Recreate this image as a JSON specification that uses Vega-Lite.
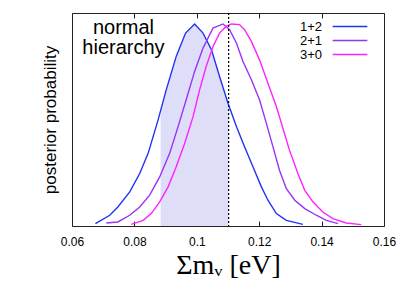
{
  "$schema": "https://vega.github.io/schema/vega-lite/v6.json",
  "width": 312,
  "height": 213,
  "autosize": {"type": "none"},
  "padding": {"left": 72, "top": 13, "right": 21, "bottom": 57},
  "background": "white",
  "config": {
    "view": {"stroke": "#222", "strokeWidth": 1},
    "font": "Liberation Sans"
  },
  "datasets": {
    "curves": [
      {"series": "1+2", "m": 0.0675, "p": 0.012},
      {"series": "1+2", "m": 0.0721, "p": 0.053},
      {"series": "1+2", "m": 0.0747, "p": 0.094},
      {"series": "1+2", "m": 0.0785, "p": 0.168},
      {"series": "1+2", "m": 0.0817, "p": 0.259},
      {"series": "1+2", "m": 0.0844, "p": 0.358},
      {"series": "1+2", "m": 0.0876, "p": 0.523},
      {"series": "1+2", "m": 0.0902, "p": 0.671},
      {"series": "1+2", "m": 0.0934, "p": 0.836},
      {"series": "1+2", "m": 0.0964, "p": 0.951},
      {"series": "1+2", "m": 0.0993, "p": 0.996},
      {"series": "1+2", "m": 0.1020, "p": 0.951},
      {"series": "1+2", "m": 0.1047, "p": 0.869},
      {"series": "1+2", "m": 0.1073, "p": 0.737},
      {"series": "1+2", "m": 0.1100, "p": 0.605},
      {"series": "1+2", "m": 0.1127, "p": 0.490},
      {"series": "1+2", "m": 0.1153, "p": 0.391},
      {"series": "1+2", "m": 0.1180, "p": 0.292},
      {"series": "1+2", "m": 0.1207, "p": 0.193},
      {"series": "1+2", "m": 0.1228, "p": 0.127},
      {"series": "1+2", "m": 0.1255, "p": 0.061},
      {"series": "1+2", "m": 0.1287, "p": 0.028},
      {"series": "1+2", "m": 0.1340, "p": 0.008},
      {"series": "2+1", "m": 0.0710, "p": 0.015},
      {"series": "2+1", "m": 0.0747, "p": 0.020},
      {"series": "2+1", "m": 0.0785, "p": 0.053},
      {"series": "2+1", "m": 0.0817, "p": 0.094},
      {"series": "2+1", "m": 0.0849, "p": 0.152},
      {"series": "2+1", "m": 0.0881, "p": 0.242},
      {"series": "2+1", "m": 0.0913, "p": 0.358},
      {"series": "2+1", "m": 0.0940, "p": 0.490},
      {"series": "2+1", "m": 0.0966, "p": 0.622},
      {"series": "2+1", "m": 0.0993, "p": 0.762},
      {"series": "2+1", "m": 0.1020, "p": 0.877},
      {"series": "2+1", "m": 0.1052, "p": 0.976},
      {"series": "2+1", "m": 0.1084, "p": 0.996},
      {"series": "2+1", "m": 0.1105, "p": 0.968},
      {"series": "2+1", "m": 0.1127, "p": 0.902},
      {"series": "2+1", "m": 0.1148, "p": 0.811},
      {"series": "2+1", "m": 0.1175, "p": 0.721},
      {"series": "2+1", "m": 0.1201, "p": 0.622},
      {"series": "2+1", "m": 0.1223, "p": 0.506},
      {"series": "2+1", "m": 0.1244, "p": 0.391},
      {"series": "2+1", "m": 0.1265, "p": 0.275},
      {"series": "2+1", "m": 0.1287, "p": 0.184},
      {"series": "2+1", "m": 0.1314, "p": 0.127},
      {"series": "2+1", "m": 0.1346, "p": 0.086},
      {"series": "2+1", "m": 0.1383, "p": 0.053},
      {"series": "2+1", "m": 0.1415, "p": 0.028},
      {"series": "2+1", "m": 0.1453, "p": 0.012},
      {"series": "3+0", "m": 0.0790, "p": 0.008},
      {"series": "3+0", "m": 0.0828, "p": 0.028},
      {"series": "3+0", "m": 0.0854, "p": 0.061},
      {"series": "3+0", "m": 0.0881, "p": 0.119},
      {"series": "3+0", "m": 0.0908, "p": 0.193},
      {"series": "3+0", "m": 0.0934, "p": 0.292},
      {"series": "3+0", "m": 0.0961, "p": 0.407},
      {"series": "3+0", "m": 0.0988, "p": 0.539},
      {"series": "3+0", "m": 0.1009, "p": 0.671},
      {"series": "3+0", "m": 0.1030, "p": 0.786},
      {"series": "3+0", "m": 0.1052, "p": 0.885},
      {"series": "3+0", "m": 0.1073, "p": 0.951},
      {"series": "3+0", "m": 0.1094, "p": 0.984},
      {"series": "3+0", "m": 0.1111, "p": 0.996},
      {"series": "3+0", "m": 0.1137, "p": 0.993},
      {"series": "3+0", "m": 0.1153, "p": 0.968},
      {"series": "3+0", "m": 0.1175, "p": 0.910},
      {"series": "3+0", "m": 0.1201, "p": 0.819},
      {"series": "3+0", "m": 0.1228, "p": 0.704},
      {"series": "3+0", "m": 0.1255, "p": 0.589},
      {"series": "3+0", "m": 0.1276, "p": 0.482},
      {"series": "3+0", "m": 0.1297, "p": 0.374},
      {"series": "3+0", "m": 0.1324, "p": 0.259},
      {"series": "3+0", "m": 0.1346, "p": 0.176},
      {"series": "3+0", "m": 0.1372, "p": 0.119},
      {"series": "3+0", "m": 0.1404, "p": 0.069},
      {"series": "3+0", "m": 0.1436, "p": 0.036},
      {"series": "3+0", "m": 0.1479, "p": 0.015},
      {"series": "3+0", "m": 0.1527, "p": 0.007}
    ],
    "shade": [
      {"m": 0.0884, "p": 0.560},
      {"m": 0.0902, "p": 0.671},
      {"m": 0.0934, "p": 0.836},
      {"m": 0.0964, "p": 0.951},
      {"m": 0.0993, "p": 0.996},
      {"m": 0.1020, "p": 0.951},
      {"m": 0.1047, "p": 0.869},
      {"m": 0.1073, "p": 0.737},
      {"m": 0.1102, "p": 0.598}
    ]
  },
  "layer": [
    {
      "data": {"name": "shade"},
      "mark": {"type": "area", "color": "#dedef9", "opacity": 1, "interpolate": "linear"},
      "encoding": {
        "x": {"field": "m", "type": "quantitative", "scale": {"domain": [0.06, 0.16], "nice": false, "zero": false},
          "axis": {"title": "Σmᵥ  [eV]", "titleFont": "Liberation Serif", "titleFontSize": 28, "titleFontWeight": "normal", "titleColor": "#000", "titlePadding": 4,
            "values": [0.06, 0.08, 0.1, 0.12, 0.14, 0.16], "labelExpr": "format(datum.value, '~g')", "labelFontSize": 12, "labelColor": "#000", "labelFont": "Liberation Sans",
            "tickSize": -5, "tickColor": "#222", "labelPadding": 15, "domain": false, "grid": false, "labelFlush": false}},
        "y": {"field": "p", "type": "quantitative", "scale": {"domain": [0, 1.05], "nice": false},
          "axis": {"title": "posterior probability", "titleFont": "Liberation Sans", "titleFontSize": 17, "titleFontWeight": "normal", "titleColor": "#000",
            "titleX": -13, "titleY": 106.5, "titleAlign": "center", "titleBaseline": "bottom", "titleAngle": 270,
            "labels": false, "ticks": false, "domain": false, "grid": false}}
      }
    },
    {
      "data": {"name": "curves"},
      "mark": {"type": "line", "strokeWidth": 1.4},
      "encoding": {
        "x": {"field": "m", "type": "quantitative", "axis": null},
        "y": {"field": "p", "type": "quantitative"},
        "color": {"field": "series", "type": "nominal",
          "scale": {"domain": ["1+2", "2+1", "3+0"], "range": ["#2233f2", "#9a33f5", "#ff22ff"]},
          "legend": {"title": null, "orient": "none", "legendX": 271.5, "legendY": 7, "symbolType": "M-4,0H4", "symbolStrokeWidth": 1.6, "symbolSize": 75,
            "labelFontSize": 13, "labelColor": "#000", "labelFont": "Liberation Sans", "labelAlign": "right", "labelOffset": -34.5,
            "rowPadding": -1, "padding": 0}}
      }
    },
    {
      "data": {"values": [{}]},
      "mark": {"type": "rule", "color": "#000", "strokeDash": [2, 2], "strokeWidth": 1.2},
      "encoding": {
        "x": {"datum": 0.1102, "type": "quantitative",
          "axis": {"orient": "top", "title": null, "labels": false, "tickSize": -5, "tickColor": "#222", "domain": false, "grid": false,
            "values": [0.06, 0.08, 0.1, 0.12, 0.14, 0.16]}}
      }
    },
    {
      "data": {"values": [{}]},
      "mark": {"type": "text", "text": ["normal", "hierarchy"], "fontSize": 20, "font": "Liberation Sans", "align": "center", "baseline": "top", "lineHeight": 20, "color": "#000"},
      "encoding": {
        "x": {"datum": 0.0765, "type": "quantitative", "axis": null},
        "y": {"datum": 1.025, "type": "quantitative"}
      }
    }
  ],
  "resolve": {"axis": {"x": "independent"}}
}
